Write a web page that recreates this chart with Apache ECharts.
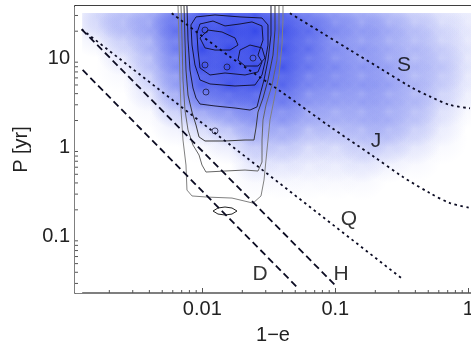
<!DOCTYPE html>
<html>
<head>
<meta charset="utf-8">
<script src="https://cdn.jsdelivr.net/npm/echarts@6/dist/echarts.min.js"></script>
<style>html,body{margin:0;padding:0;background:#fff}#main{width:471px;height:343px}</style>
</head>
<body>
<div id="main"></div>
<script>
// axis ranges (1-e, P[yr])
var X_MIN = 0.001104, X_MAX = 1.048, Y_MIN = 0.02344, Y_MAX = 38.3;
var xMinorTicks = [0.002,0.003,0.004,0.005,0.006,0.007,0.008,0.009,0.02,0.03,0.04,0.05,0.06,0.07,0.08,0.09,0.2,0.3,0.4,0.5,0.6,0.7,0.8,0.9];
var yMinorTicks = [0.03,0.04,0.05,0.06,0.07,0.08,0.09,0.2,0.3,0.4,0.5,0.6,0.7,0.8,0.9,2,3,4,5,6,7,8,9,20,30];

// density background (blue)
var densX = [0.0016,0.0025,0.004,0.0063,0.01,0.016,0.025,0.04,0.063,0.1,0.16,0.25,0.4,0.63,1.0];
var densY = [30,20,12.6,7.9,5,3.2,2,1.26,0.79,0.5];
var density = [
  [0.2,0.3,0.4,0.65,0.85,0.9,0.9,0.8,0.6,0.5,0.4,0.3,0.2,0.12,0.08],
  [0.1,0.25,0.35,0.65,0.95,1,1,0.9,0.7,0.5,0.4,0.35,0.25,0.15,0.08],
  [0,0.15,0.3,0.6,1,1,1,0.9,0.7,0.5,0.45,0.35,0.3,0.2,0.1],
  [0,0.05,0.25,0.5,0.95,1,1,0.9,0.65,0.55,0.45,0.4,0.3,0.25,0.1],
  [0,0,0.15,0.4,0.8,0.9,0.9,0.75,0.55,0.5,0.45,0.4,0.3,0.2,0.08],
  [0,0,0.05,0.3,0.55,0.6,0.65,0.6,0.45,0.4,0.4,0.35,0.3,0.15,0.05],
  [0,0,0,0.1,0.25,0.35,0.45,0.45,0.35,0.35,0.35,0.35,0.25,0.1,0],
  [0,0,0,0,0.05,0.15,0.3,0.3,0.2,0.2,0.25,0.25,0.15,0.05,0],
  [0,0,0,0,0,0,0.15,0.15,0.1,0.1,0.15,0.1,0.05,0,0],
  [0,0,0,0,0,0,0.05,0.05,0.05,0.05,0.05,0,0,0,0]
];
var densTopP = 32, densLeftX = 0.00125;

// contours
var cont1 = [[0.00657,38.3],[0.00668,15.95],[0.0068,5.69],[0.00692,2.62],[0.00716,1.21],[0.00754,0.635],[0.00767,0.333],[0.00837,0.286],[0.01085,0.278],[0.01673,0.271],[0.02406,0.238],[0.02764,0.286],[0.02911,0.431],[0.03013,0.723],[0.03119,1.21],[0.03228,2.03],[0.0346,3.4],[0.03773,6.47],[0.03974,14.0],[0.04044,26.7],[0.04044,38.3]];
var cont2 = [[0.00692,38.3],[0.00704,15.95],[0.00716,5.69],[0.00741,2.62],[0.00781,1.57],[0.00851,1.064],[0.00945,0.822],[0.00995,0.635],[0.01066,0.53],[0.01482,0.544],[0.02095,0.558],[0.02623,0.544],[0.02812,0.686],[0.02812,1.21],[0.02861,2.03],[0.03013,2.98],[0.03343,5.0],[0.03645,9.52],[0.03773,20.6],[0.03773,38.3]];
var cont3 = [[0.00729,38.3],[0.00741,15.95],[0.00754,7.36],[0.00781,3.86],[0.00837,2.49],[0.00897,1.78],[0.00945,1.31],[0.01048,1.18],[0.01482,1.18],[0.02095,1.21],[0.02447,1.21],[0.02534,1.65],[0.02623,2.49],[0.02861,3.57],[0.03119,5.69],[0.03401,10.8],[0.03521,20.6],[0.03521,38.3]];
var cont4 = [[0.00767,38.3],[0.00781,15.95],[0.00808,7.36],[0.00851,4.63],[0.00897,3.57],[0.00961,3.06],[0.01246,2.91],[0.01762,2.76],[0.02284,2.62],[0.02578,2.84],[0.02716,3.86],[0.02911,5.69],[0.03119,9.52],[0.03285,18.15],[0.03285,38.3]];
var cont5 = [[0.00822,23.5],[0.00897,28.9],[0.01246,30.4],[0.01921,28.9],[0.02812,28.1],[0.03119,23.5],[0.03119,14.0],[0.02961,9.04],[0.02812,6.47],[0.0249,5.0],[0.01762,4.87],[0.01143,5.13],[0.00961,5.69],[0.00881,8.37],[0.00837,14.0],[0.00822,23.5]];
var cont6 = [[0.00912,19.1],[0.00961,24.1],[0.01204,26.0],[0.01482,22.9],[0.01921,24.1],[0.02364,25.4],[0.02812,22.9],[0.02861,15.95],[0.02623,10.8],[0.02812,9.04],[0.02623,6.99],[0.02095,6.47],[0.01482,6.81],[0.01143,6.47],[0.00961,7.75],[0.00928,12.3],[0.00912,19.1]];
var cont7a = [[0.00961,16.8],[0.01104,20.6],[0.01407,19.6],[0.01762,16.8],[0.01856,14.0],[0.01616,12.3],[0.01246,12.3],[0.01048,13.0],[0.00961,16.8]];
var cont7b = [[0.01921,12.3],[0.02284,14.0],[0.02812,13.0],[0.02961,10.0],[0.02623,8.15],[0.02095,8.15],[0.01856,9.52],[0.01921,12.3]];
var contEllipse = [[0.01204,0.194],[0.01312,0.2097],[0.01482,0.2151],[0.01673,0.2097],[0.01824,0.194],[0.01673,0.1795],[0.01482,0.175],[0.01312,0.1795],[0.01204,0.194]];
var contSpots = [[0.01048,20.6],[0.01048,8.37],[0.01534,7.95],[0.02406,10.0],[0.01246,1.53],[0.01066,4.17]];

// reference lines
var lineD = [[0.00126,7.36],[0.0513,0.0275]];
var lineH = [[0.00124,21.0],[0.0995,0.0288]];
var lineQ = [[0.00124,21.0],[0.3157,0.0342]];
var lineJ = [[0.00589,31.8],[0.01614,10.37],[0.0384,4.29],[0.0912,1.71],[0.192,0.801],[0.323,0.466],[0.515,0.308],[0.728,0.238],[1.048,0.209]];
var lineS = [[0.0456,31.8],[0.0767,19.8],[0.129,12.3],[0.217,7.69],[0.365,4.79],[0.517,3.7],[0.728,2.99],[1.03,2.74]];
var tagNames = ['S','J','Q','H','D'];
var tagPos = [[0.3284,8.37],[0.2023,1.18],[0.1268,0.1578],[0.1104,0.0382],[0.02716,0.0382]];

var FONT = 'Liberation Sans';
var blue = '40,60,232';

var densData = [];
for (var j = 0; j < densY.length; j++) {
  for (var i = 0; i < densX.length; i++) {
    if (density[j][i] > 0) densData.push([densX[i], densY[j], density[j][i]]);
  }
}

function contour(data, color) {
  return {
    type: 'line', data: data, symbol: 'none', silent: true, z: 4,
    lineStyle: { color: color, width: 1 }
  };
}
function refLine(data, dash, smooth) {
  return {
    type: 'line', data: data, symbol: 'none', silent: true, z: 5, smooth: smooth || false,
    lineStyle: { color: '#0b0b22', width: 1.8, type: dash }
  };
}

var myChart = echarts.init(document.getElementById('main'));
var option = {
  animation: false,
  backgroundColor: '#fff',
  grid: { left: 75, right: 0, top: 6, bottom: 50, containLabel: false, outerBoundsMode: 'none' },
  xAxis: [{
    type: 'log', min: X_MIN, max: X_MAX,
    name: '1\u2212e', nameLocation: 'middle', nameGap: 32,
    nameTextStyle: { fontFamily: FONT, fontSize: 20, color: '#222' },
    axisLine: { lineStyle: { color: '#555', width: 1.5 } },
    axisTick: { inside: true, length: 5, lineStyle: { color: '#555', width: 1 } },
    axisLabel: {
      fontFamily: FONT, fontSize: 20, color: '#222', margin: 6,
      showMinLabel: false, showMaxLabel: false, hideOverlap: false,
      formatter: function (v) { return String(+v.toPrecision(2)); }
    },
    splitLine: { show: false }
  }, {
    type: 'value', position: 'top', min: 0, max: 1,
    axisLine: { show: true, lineStyle: { color: '#000', width: 1.5 } },
    axisTick: { show: false }, axisLabel: { show: false }, splitLine: { show: false }
  }],
  yAxis: {
    type: 'log', min: Y_MIN, max: Y_MAX,
    name: 'P [yr]', nameLocation: 'middle', nameGap: 43,
    nameTextStyle: { fontFamily: FONT, fontSize: 20, color: '#222' },
    axisLine: { lineStyle: { color: '#555', width: 1.5 } },
    axisTick: { inside: true, length: 5, lineStyle: { color: '#555', width: 1 } },
    axisLabel: {
      fontFamily: FONT, fontSize: 20, color: '#222', margin: 5,
      showMinLabel: false, showMaxLabel: false,
      formatter: function (v) { return String(+v.toPrecision(2)); }
    },
    splitLine: { show: false }
  },
  series: [
    {
      type: 'custom', data: densData, z: 1, silent: true, clip: true,
      renderItem: function (params, api) {
        var c = api.coord([api.value(0), api.value(1)]);
        var sx = Math.abs(api.coord([densX[1], densY[0]])[0] - api.coord([densX[0], densY[0]])[0]);
        var sy = Math.abs(api.coord([densX[0], densY[1]])[1] - api.coord([densX[0], densY[0]])[1]);
        var a = api.value(2);
        return {
          type: 'ellipse',
          shape: { cx: c[0], cy: c[1], rx: sx * 1.7, ry: sy * 1.7 },
          style: {
            fill: {
              type: 'radial', x: 0.5, y: 0.5, r: 0.5,
              colorStops: [
                { offset: 0, color: 'rgba(' + blue + ',' + Math.min(1, a * 0.85) + ')' },
                { offset: 0.45, color: 'rgba(' + blue + ',' + (a * 0.5) + ')' },
                { offset: 1, color: 'rgba(' + blue + ',0)' }
              ]
            }
          }
        };
      }
    },
    {
      // white margin where the density image ends
      type: 'custom', data: [[densLeftX, densTopP]], z: 2, silent: true, clip: true,
      renderItem: function (params, api) {
        var tl = api.coord([X_MIN, Y_MAX]);
        var br = api.coord([X_MAX, Y_MIN]);
        var m = api.coord([api.value(0), api.value(1)]);
        return {
          type: 'group',
          children: [
            { type: 'rect', shape: { x: tl[0], y: tl[1], width: br[0] - tl[0], height: m[1] - tl[1] }, style: { fill: '#fff' } },
            { type: 'rect', shape: { x: tl[0], y: tl[1], width: m[0] - tl[0], height: br[1] - tl[1] }, style: { fill: '#fff' } }
          ]
        };
      }
    },
    contour(cont1, '#808080'),
    contour(cont2, '#666'),
    contour(cont3, '#3a3a3a'),
    contour(cont4, '#1c1c3a'),
    contour(cont5, '#14143a'),
    contour(cont6, '#14143a'),
    contour(cont7a, '#14143a'),
    contour(cont7b, '#14143a'),
    contour(contEllipse, '#222'),
    {
      type: 'scatter', data: contSpots, symbol: 'circle', symbolSize: 6, z: 4, silent: true,
      itemStyle: { color: 'rgba(0,0,0,0)', borderColor: '#1c1c3a', borderWidth: 1 }
    },
    refLine(lineD, [7, 4]),
    refLine(lineH, [7, 4]),
    refLine(lineQ, [2.5, 3.5]),
    refLine(lineJ, [2.5, 3.5], 0.3),
    refLine(lineS, [2.5, 3.5], 0.3),
    {
      // minor ticks
      type: 'custom', z: 6, silent: true, clip: false,
      data: xMinorTicks.map(function (v) { return [v, Y_MIN]; }).concat(
        yMinorTicks.map(function (v) { return [X_MIN, v]; })),
      renderItem: function (params, api) {
        var x = api.value(0), y = api.value(1);
        var p = api.coord([x, y]);
        var isX = params.dataIndex < xMinorTicks.length;
        return {
          type: 'line',
          shape: isX ? { x1: p[0], y1: p[1], x2: p[0], y2: p[1] - 3 } : { x1: p[0], y1: p[1], x2: p[0] + 3, y2: p[1] },
          style: { stroke: '#555', lineWidth: 1 }
        };
      }
    },
    {
      type: 'scatter', data: tagPos, symbolSize: 1, z: 7, silent: true,
      itemStyle: { color: 'rgba(0,0,0,0)' },
      label: {
        show: true, position: 'inside', fontFamily: FONT, fontSize: 21, color: '#000',
        formatter: function (p) { return tagNames[p.dataIndex]; }
      }
    }
  ]
};
myChart.setOption(option);
</script>
</body>
</html>
